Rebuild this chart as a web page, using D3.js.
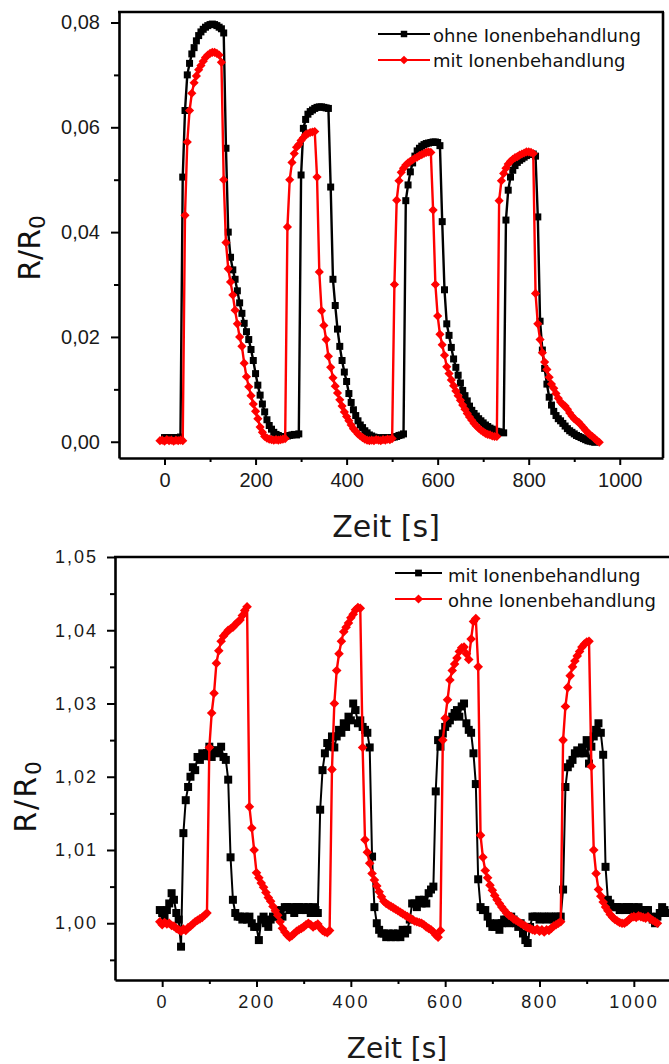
<!DOCTYPE html>
<html><head><meta charset="utf-8">
<script src="https://cdn.jsdelivr.net/npm/d3@7"></script>
<style>body{margin:0;background:#fff}svg{display:block}</style>
</head><body>
<svg id="c" width="669" height="1064"></svg>
<script>
// ---------- DATA ----------
// Top panel (sampling every 5 s)
const topOhneStart = 0, topMitStart = -10, topStep = 5;
const topOhne = [
0.0008,0.0008,0.0007,0.0008,0.0008,0.0007,0.0008,0.0009,0.0505,0.0632,
0.0700,0.0722,0.0740,0.0752,0.0765,0.0775,0.0782,0.0787,0.0791,0.0794,
0.0796,0.0797,0.0796,0.0794,0.0791,0.0788,0.0780,0.0560,0.0400,0.0352,
0.0328,0.0310,0.0288,0.0265,0.0245,0.0226,0.0210,0.0195,0.0176,0.0155,
0.0130,0.0108,0.0089,0.0072,0.0057,0.0042,0.0031,0.0024,0.0018,0.0014,
0.0012,0.0010,0.0010,0.0010,0.0011,0.0012,0.0013,0.0014,0.0013,0.0015,
0.0509,0.0598,0.0615,0.0625,0.0630,0.0633,0.0636,0.0638,0.0639,0.0639,
0.0638,0.0637,0.0636,0.0486,0.0310,0.0260,0.0215,0.0182,0.0155,0.0133,
0.0115,0.0092,0.0075,0.0061,0.0050,0.0040,0.0032,0.0027,0.0021,0.0017,
0.0013,0.0011,0.0009,0.0008,0.0007,0.0007,0.0008,0.0007,0.0008,0.0008,
0.0008,0.0009,0.0010,0.0012,0.0013,0.0015,0.0460,0.0490,0.0515,0.0532,
0.0545,0.0555,0.0560,0.0564,0.0567,0.0569,0.0570,0.0571,0.0572,0.0572,
0.0571,0.0565,0.0420,0.0290,0.0225,0.0203,0.0180,0.0158,0.0142,0.0127,
0.0112,0.0098,0.0088,0.0078,0.0068,0.0060,0.0054,0.0049,0.0044,0.0040,
0.0036,0.0032,0.0029,0.0026,0.0024,0.0022,0.0020,0.0019,0.0018,0.0017,
0.0423,0.0480,0.0505,0.0518,0.0527,0.0533,0.0537,0.0540,0.0543,0.0546,
0.0548,0.0550,0.0549,0.0545,0.0429,0.0230,0.0175,0.0140,0.0110,0.0085,
0.0070,0.0058,0.0050,0.0044,0.0040,0.0035,0.0030,0.0025,0.0021,0.0018,
0.0015,0.0012,0.0010,0.0008,0.0006,0.0004,0.0002,0.0001,0.0000,-0.0001
];
const topMit = [
0.0002,0.0003,0.0001,0.0004,0.0002,0.0003,0.0001,0.0003,0.0002,0.0003,
0.0002,0.0432,0.0572,0.0632,0.0665,0.0685,0.0698,0.0710,0.0718,0.0726,
0.0733,0.0738,0.0741,0.0743,0.0743,0.0741,0.0738,0.0724,0.0500,0.0380,
0.0330,0.0305,0.0280,0.0251,0.0225,0.0200,0.0182,0.0150,0.0124,0.0105,
0.0088,0.0072,0.0058,0.0044,0.0028,0.0018,0.0010,0.0007,0.0005,0.0004,
0.0003,0.0004,0.0003,0.0004,0.0005,0.0006,0.0410,0.0500,0.0533,0.0550,
0.0562,0.0567,0.0575,0.0580,0.0586,0.0588,0.0590,0.0591,0.0592,0.0505,
0.0324,0.0250,0.0222,0.0195,0.0163,0.0142,0.0122,0.0106,0.0093,0.0080,
0.0068,0.0057,0.0048,0.0040,0.0032,0.0025,0.0020,0.0015,0.0011,0.0008,
0.0005,0.0003,0.0002,0.0003,0.0002,0.0004,0.0003,0.0002,0.0004,0.0003,
0.0005,0.0004,0.0006,0.0300,0.0461,0.0498,0.0514,0.0522,0.0528,0.0532,
0.0535,0.0538,0.0541,0.0543,0.0546,0.0548,0.0550,0.0552,0.0553,0.0552,
0.0442,0.0300,0.0240,0.0205,0.0185,0.0165,0.0143,0.0130,0.0118,0.0107,
0.0097,0.0088,0.0079,0.0070,0.0062,0.0054,0.0047,0.0041,0.0035,0.0030,
0.0026,0.0022,0.0019,0.0016,0.0014,0.0013,0.0011,0.0010,0.0010,0.0460,
0.0498,0.0512,0.0522,0.0530,0.0535,0.0539,0.0542,0.0544,0.0547,0.0549,
0.0551,0.0553,0.0553,0.0552,0.0550,0.0283,0.0225,0.0195,0.0170,0.0152,
0.0138,0.0123,0.0110,0.0102,0.0092,0.0083,0.0076,0.0071,0.0068,0.0062,
0.0055,0.0049,0.0044,0.0040,0.0037,0.0032,0.0027,0.0022,0.0017,0.0013,
0.0010,0.0006,0.0002,-0.0001
];
// Bottom panel (sampling every 5 s)
const botMitStart = -5, botOhneStart = -5, botStep = 5;
const botMit = [
1.0018,1.0014,1.0009,1.0018,1.0027,1.0041,1.0032,1.0014,1.0005,0.9968,
1.0123,1.0168,1.0186,1.0200,1.0213,1.0209,1.0227,1.0223,1.0232,1.0228,
1.0232,1.0241,1.0227,1.0236,1.0236,1.0232,1.0241,1.0227,1.0223,1.0196,
1.0090,1.0032,1.0014,1.0009,1.0009,1.0005,1.0009,1.0005,1.0009,1.0000,
0.9995,0.9995,0.9977,1.0005,1.0009,1.0000,0.9995,1.0005,1.0009,1.0009,
1.0014,1.0018,1.0009,1.0022,1.0022,1.0018,1.0022,1.0014,1.0022,1.0022,
1.0018,1.0022,1.0018,1.0022,1.0014,1.0022,1.0018,1.0014,1.0155,1.0209,
1.0232,1.0246,1.0241,1.0255,1.0240,1.0255,1.0264,1.0260,1.0273,1.0268,
1.0282,1.0277,1.0300,1.0291,1.0273,1.0277,1.0268,1.0264,1.0260,1.0240,
1.0091,1.0022,1.0000,0.9991,0.9986,0.9986,0.9981,0.9986,0.9981,0.9986,
0.9981,0.9986,0.9981,0.9991,0.9986,0.9991,1.0005,1.0027,1.0027,1.0022,
1.0032,1.0027,1.0032,1.0027,1.0041,1.0046,1.0050,1.0180,1.0250,1.0241,
1.0259,1.0268,1.0273,1.0277,1.0282,1.0287,1.0291,1.0282,1.0296,1.0300,
1.0273,1.0264,1.0260,1.0232,1.0190,1.0060,1.0022,1.0018,1.0018,1.0009,
1.0000,0.9995,0.9995,1.0000,0.9991,1.0000,1.0005,1.0005,1.0000,1.0009,
1.0005,1.0000,0.9995,1.0000,0.9986,0.9977,0.9973,0.9995,1.0009,1.0009,
1.0009,1.0005,1.0009,1.0009,1.0005,1.0009,1.0009,1.0005,1.0009,1.0009,
1.0009,1.0046,1.0186,1.0213,1.0218,1.0223,1.0232,1.0236,1.0232,1.0240,
1.0232,1.0250,1.0218,1.0241,1.0255,1.0264,1.0273,1.0260,1.0230,1.0077,
1.0032,1.0027,1.0022,1.0022,1.0022,1.0018,1.0022,1.0018,1.0022,1.0022,
1.0018,1.0022,1.0018,1.0022,1.0018,1.0014,1.0018,1.0018,1.0009,1.0005,
1.0000,1.0009,1.0014,1.0022,1.0018,1.0014
];
const botOhne = [
1.0002,0.9998,1.0001,0.9999,1.0000,0.9997,0.9996,0.9993,0.9991,0.9989,
0.9992,0.9990,0.9994,0.9996,0.9999,1.0002,1.0004,1.0006,1.0008,1.0011,
1.0014,1.0240,1.0287,1.0314,1.0355,1.0372,1.0385,1.0392,1.0396,1.0400,
1.0402,1.0404,1.0408,1.0411,1.0414,1.0420,1.0427,1.0432,1.0159,1.0130,
1.0100,1.0069,1.0062,1.0055,1.0049,1.0042,1.0035,1.0030,1.0023,1.0017,
1.0011,1.0002,0.9993,0.9988,0.9984,0.9981,0.9983,0.9986,0.9989,0.9991,
0.9993,0.9995,0.9998,1.0000,0.9998,0.9995,0.9997,0.9999,0.9994,0.9990,
0.9988,0.9987,0.9990,1.0210,1.0300,1.0345,1.0368,1.0385,1.0398,1.0404,
1.0410,1.0417,1.0422,1.0428,1.0431,1.0430,1.0240,1.0114,1.0097,1.0082,
1.0068,1.0059,1.0051,1.0043,1.0036,1.0030,1.0027,1.0025,1.0023,1.0021,
1.0019,1.0017,1.0015,1.0013,1.0011,1.0009,1.0007,1.0005,1.0003,1.0002,
1.0001,1.0000,0.9998,0.9995,0.9993,0.9991,0.9988,0.9984,0.9981,0.9990,
1.0250,1.0280,1.0305,1.0332,1.0345,1.0354,1.0362,1.0371,1.0376,1.0377,
1.0368,1.0360,1.0388,1.0412,1.0416,1.0350,1.0120,1.0090,1.0072,1.0062,
1.0052,1.0045,1.0038,1.0032,1.0027,1.0022,1.0018,1.0014,1.0011,1.0009,
1.0006,1.0004,1.0002,1.0000,0.9998,0.9996,0.9994,0.9993,0.9991,0.9990,
0.9992,0.9989,0.9991,0.9988,0.9991,0.9990,0.9993,0.9996,0.9998,1.0000,
1.0002,1.0250,1.0296,1.0322,1.0338,1.0350,1.0358,1.0365,1.0371,1.0377,
1.0381,1.0384,1.0385,1.0214,1.0100,1.0068,1.0046,1.0037,1.0029,1.0022,
1.0017,1.0012,1.0008,1.0005,1.0003,1.0001,1.0000,1.0000,1.0002,1.0005,
1.0008,1.0009,1.0008,1.0010,1.0009,1.0008,1.0007,1.0009,1.0006,1.0004,
1.0002,1.0000
];
// Ticks
const topXMajor = [0,200,400,600,800,1000];
const topXMinor = [100,300,500,700,900];
const topYMajor = [0,0.02,0.04,0.06,0.08];
const topYMinor = [0.01,0.03,0.05,0.07];
const botXMajor = [0,200,400,600,800,1000];
const botXMinor = [100,300,500,700,900];
const botYMajor = [1.00,1.01,1.02,1.03,1.04,1.05];
const botYMinor = [0.995,1.005,1.015,1.025,1.035,1.045];
// Legends / labels
const topLegend = ["ohne Ionenbehandlung","mit Ionenbehandlung"];
const botLegend = ["mit Ionenbehandlung","ohne Ionenbehandlung"];
const xTitle = "Zeit [s]";

// ---------- DRAW ----------
const svg = d3.select('#c');
const toPts = (arr, start, step) => arr.map((v,i)=>({t:start+i*step, v}));
const comma = f => d => f(d).replace('.', ',');

function axes(xs, ys, o){
  const [x0,x1] = xs.range(), [y0,y1] = ys.range();
  svg.append('g').attr('transform',`translate(0,${y0})`)
    .call(d3.axisBottom(xs).tickValues(o.xMinor).tickSize(4).tickSizeOuter(0).tickFormat(''))
    .call(g=>g.select('.domain').remove())
    .call(g=>g.selectAll('line').attr('stroke','#000').attr('stroke-width',2));
  svg.append('g').attr('transform',`translate(${x0},0)`)
    .call(d3.axisLeft(ys).tickValues(o.yMinor).tickSize(5).tickSizeOuter(0).tickFormat(''))
    .call(g=>g.select('.domain').remove())
    .call(g=>g.selectAll('line').attr('stroke','#000').attr('stroke-width',2));
  const gx = svg.append('g').attr('transform',`translate(0,${y0})`)
    .call(d3.axisBottom(xs).tickValues(o.xMajor).tickSize(7).tickSizeOuter(0).tickPadding(o.xPad).tickFormat(d3.format('d')));
  gx.select('.domain').attr('stroke','#000').attr('stroke-width',2.6);
  gx.selectAll('line').attr('stroke','#000').attr('stroke-width',2);
  gx.selectAll('text').attr('font-family','"Liberation Sans", Arial, sans-serif')
    .attr('font-size',o.xFs).attr('fill','#1a1a1a').attr('letter-spacing',o.xLs);
  const gy = svg.append('g').attr('transform',`translate(${x0},0)`)
    .call(d3.axisLeft(ys).tickValues(o.yMajor).tickSize(8).tickSizeOuter(0).tickPadding(o.yPad).tickFormat(comma(d3.format('.2f'))));
  gy.select('.domain').attr('stroke','#000').attr('stroke-width',2.6);
  gy.selectAll('line').attr('stroke','#000').attr('stroke-width',2);
  gy.selectAll('text').attr('font-family','"Liberation Sans", Arial, sans-serif')
    .attr('font-size',o.yFs).attr('fill','#1a1a1a').attr('letter-spacing',o.yLs);
  svg.append('line').attr('x1',x0-1).attr('x2',x1+1).attr('y1',y1).attr('y2',y1)
    .attr('stroke','#000').attr('stroke-width',2.6);
  svg.append('line').attr('x1',x1).attr('x2',x1).attr('y1',y1).attr('y2',y0)
    .attr('stroke','#000').attr('stroke-width',2.6);
}

const sq = d3.symbol().type(d3.symbolSquare);
function series(xs, ys, pts, color, kind, msize, lw){
  const line = d3.line().x(d=>xs(d.t)).y(d=>ys(d.v));
  svg.append('path').datum(pts).attr('d',line).attr('fill','none')
    .attr('stroke',color).attr('stroke-width',lw).attr('stroke-linejoin','round');
  const g = svg.append('g');
  g.selectAll('path').data(pts).join('path')
    .attr('d', sq.size(msize)())
    .attr('transform', d=>`translate(${xs(d.t)},${ys(d.v)})` + (kind==='diamond'?' rotate(45)':''))
    .attr('fill',color);
}

function legendItem(x0, x1, tx, y, ty, color, kind, msize, label){
  svg.append('line').attr('x1',x0).attr('x2',x1).attr('y1',y).attr('y2',y)
    .attr('stroke',color).attr('stroke-width',2.2);
  svg.append('path').attr('d', sq.size(msize)())
    .attr('transform',`translate(${(x0+x1)/2},${y})` + (kind==='diamond'?' rotate(45)':''))
    .attr('fill',color);
  svg.append('text').attr('x',tx).attr('y',ty).text(label)
    .attr('font-family','"DejaVu Sans", Verdana, sans-serif').attr('font-size',18).attr('fill','#111');
}

function yTitle(x, y, fs, ls){
  const t = svg.append('text').attr('transform',`translate(${x},${y}) rotate(-90)`)
    .attr('text-anchor','middle').attr('font-family','"DejaVu Sans", Verdana, sans-serif')
    .attr('font-size',fs).attr('fill','#111').attr('letter-spacing',ls);
  t.append('tspan').text('R/R');
  t.append('tspan').attr('font-size',fs*0.72).attr('dy',5).text('0');
}

// ---- Top panel ----
const xTop = d3.scaleLinear().domain([-100,1095]).range([119,663]);
const yTop = d3.scaleLinear().domain([-0.0031,0.082]).range([458,12]);
axes(xTop, yTop, {xMajor:topXMajor,xMinor:topXMinor,yMajor:topYMajor,yMinor:topYMinor,
  xPad:8,yPad:11,xFs:20,yFs:20,xLs:0,yLs:0});
series(xTop, yTop, toPts(topOhne, topOhneStart, topStep), '#000', 'square', 49, 2.4);
series(xTop, yTop, toPts(topMit, topMitStart, topStep), '#f00', 'diamond', 42, 2.4);
legendItem(378, 430, 433, 34, 42, '#000', 'square', 42, topLegend[0]);
legendItem(378, 430, 433, 60, 67, '#f00', 'diamond', 38, topLegend[1]);
svg.append('text').attr('x',386).attr('y',537).attr('text-anchor','middle')
  .attr('font-family','"DejaVu Sans", Verdana, sans-serif').attr('font-size',30).attr('fill','#1a1a1a').text(xTitle);
yTitle(40, 248, 30, 0);

// ---- Bottom panel ----
const xBot = d3.scaleLinear().domain([-100,1100]).range([115,681]);
const yBot = d3.scaleLinear().domain([0.99225,1.05]).range([980,557]);
axes(xBot, yBot, {xMajor:botXMajor,xMinor:botXMinor,yMajor:botYMajor,yMinor:botYMinor,
  xPad:8,yPad:9,xFs:18,yFs:18,xLs:2.5,yLs:2});
series(xBot, yBot, toPts(botMit, botMitStart, botStep), '#000', 'square', 64, 2);
series(xBot, yBot, toPts(botOhne, botOhneStart, botStep), '#f00', 'diamond', 46, 2.4);
legendItem(395, 442, 448, 573, 582, '#000', 'square', 46, botLegend[0]);
legendItem(395, 442, 448, 599, 607, '#f00', 'diamond', 42, botLegend[1]);
svg.append('text').attr('x',397).attr('y',1058).attr('text-anchor','middle')
  .attr('font-family','"DejaVu Sans", Verdana, sans-serif').attr('font-size',28).attr('fill','#1a1a1a').text(xTitle);
yTitle(36, 796, 30, 2);
</script>
</body></html>
